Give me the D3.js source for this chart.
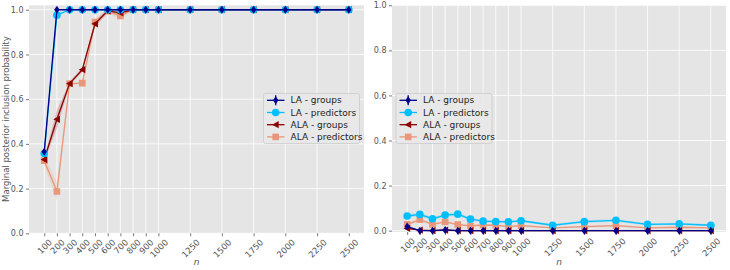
<!DOCTYPE html>
<html><head><meta charset="utf-8">
<script src="https://cdn.jsdelivr.net/npm/d3@7"></script>
<style>body{margin:0;background:#fff}svg{display:block}text{font-family:"DejaVu Sans",sans-serif}</style>
</head><body><svg id="c" width="730" height="270"></svg>
<script>
const nValues = [100,200,300,400,500,600,700,800,900,1000,1250,1500,1750,2000,2250,2500];
const xTicks = [100,200,300,400,500,600,700,800,900,1000,1250,1500,1750,2000,2250,2500];
const yTicks = [0,0.2,0.4,0.6,0.8,1.0];
const seriesNames = ["LA - groups","LA - predictors","ALA - groups","ALA - predictors"];

// Left panel (groups/predictors that are in the model)
const leftLAgroups   = [0.365,1,1,1,1,1,1,1,1,1,1,1,1,1,1,1];
const leftLApreds    = [0.357,0.976,1,1,1,1,1,1,1,1,1,1,1,1,1,1];
const leftALAgroups  = [0.33,0.51,0.67,0.732,0.937,0.995,0.986,1,1,1,1,1,1,1,1,1];
const leftALApreds   = [0.325,0.187,0.67,0.672,0.945,0.994,0.972,1,1,1,1,1,1,1,1,1];
const leftLAgroupsErr  = [0.01,0,0,0,0,0,0,0,0,0,0,0,0,0,0,0];
const leftLApredsErr   = [0.01,0.008,0,0,0,0,0,0,0,0,0,0,0,0,0,0];
const leftALAgroupsErr = [0.01,0.04,0.008,0.01,0.015,0.008,0.01,0,0,0,0,0,0,0,0,0];
const leftALApredsErr  = [0.02,0.04,0.005,0.005,0.015,0.01,0.015,0,0,0,0,0,0,0,0,0];

// Right panel (groups/predictors not in the model)
const rightLAgroups  = [0.018,0,0,0.003,0,0,0,0,0,0,0,0,0,0,0,0];
const rightLApreds   = [0.065,0.072,0.053,0.069,0.073,0.051,0.042,0.04,0.039,0.044,0.024,0.04,0.046,0.028,0.03,0.024];
const rightALAgroups = [0.01,0.002,0,0.002,0,0,0,0,0,0,0,0,0,0,0,0];
const rightALApreds  = [0.028,0.049,0.028,0.039,0.027,0.021,0.025,0.024,0.018,0.022,0.012,0.018,0.022,0.012,0.015,0.012];
const rightLAgroupsErr  = [0.004,0.001,0.001,0.002,0.001,0.001,0.001,0.001,0.001,0.001,0.001,0.001,0.001,0.001,0.001,0.001];
const rightLApredsErr   = [0.008,0.008,0.007,0.007,0.007,0.006,0.006,0.006,0.006,0.006,0.005,0.006,0.006,0.005,0.005,0.005];
const rightALAgroupsErr = [0.004,0.002,0.001,0.002,0.001,0.001,0.001,0.001,0.001,0.001,0.001,0.001,0.001,0.001,0.001,0.001];
const rightALApredsErr  = [0.006,0.006,0.005,0.005,0.005,0.004,0.004,0.004,0.004,0.004,0.003,0.004,0.004,0.003,0.003,0.003];

const colors = ["#00008B","#00BFFF","#8B0000","#E9967A"];
const markers = ["thindiamond","circle","triangleleft","square"];

const svg = d3.select("#c");
const FONT = "DejaVu Sans";

function markerPath(type){
  switch(type){
    case "thindiamond": return "M0,-4L2.7,0L0,4L-2.7,0Z";
    case "circle": return d3.symbol(d3.symbolCircle, 46)();
    case "triangleleft": return "M-3.6,0L3,-3.6L3,3.6Z";
    case "square": return "M-3.3,-3.3H3.3V3.3H-3.3Z";
  }
}

function panel(opt){
  const g = svg.append("g");
  const x = d3.scaleLinear().domain([-20,2620]).range([opt.x0,opt.x1]);
  const y = d3.scaleLinear().domain(opt.ydom).range([opt.y1,opt.y0]);
  g.append("rect").attr("x",opt.x0).attr("y",opt.y0).attr("width",opt.x1-opt.x0).attr("height",opt.y1-opt.y0).attr("fill","#E5E5E5");
  // grid
  g.append("g").selectAll("line").data(xTicks).join("line")
    .attr("x1",d=>x(d)).attr("x2",d=>x(d)).attr("y1",opt.y0).attr("y2",opt.y1)
    .attr("stroke","#fff").attr("stroke-width",0.8);
  g.append("g").selectAll("line").data(yTicks).join("line")
    .attr("y1",d=>y(d)).attr("y2",d=>y(d)).attr("x1",opt.x0).attr("x2",opt.x1)
    .attr("stroke","#fff").attr("stroke-width",0.8);
  // y axis
  const ya = d3.axisLeft(y).tickValues(yTicks).tickFormat(d3.format(".1f")).tickSize(3).tickPadding(2.5);
  const yg = g.append("g").attr("transform",`translate(${opt.x0},0)`).call(ya);
  yg.select(".domain").remove();
  yg.selectAll("line").attr("stroke","#555").attr("stroke-width",0.8);
  yg.selectAll("text").attr("fill","#555").style("font-family",FONT).style("font-size","8px");
  // x axis
  const xa = d3.axisBottom(x).tickValues(xTicks).tickFormat(d3.format("d")).tickSize(3).tickPadding(0);
  const xg = g.append("g").attr("transform",`translate(0,${opt.y1})`).call(xa);
  xg.select(".domain").remove();
  xg.selectAll("line").attr("stroke","#555").attr("stroke-width",0.8);
  xg.selectAll("text").attr("fill","#555").style("font-family",FONT).style("font-size","8.5px")
    .attr("text-anchor","middle").attr("dominant-baseline","central").attr("dy",null)
    .each(function(){
      const w = this.getComputedTextLength();
      const h = 8.5;
      const off = 4.5 + (w + h)/(2*Math.SQRT2);
      d3.select(this).attr("y",0).attr("transform",`translate(0,${off}) rotate(-45)`);
    });
  // x label
  g.append("text").attr("x",(opt.x0+opt.x1)/2).attr("y",265).attr("text-anchor","middle")
    .attr("fill","#555").style("font-size","9px").style("font-style","italic").text("n");

  const clipId = "clip"+opt.id;
  svg.append("clipPath").attr("id",clipId).append("rect")
    .attr("x",opt.x0).attr("y",opt.y0-6).attr("width",opt.x1-opt.x0).attr("height",opt.y1-opt.y0+12);
  const plot = g.append("g").attr("clip-path",`url(#${clipId})`);
  const order = [3,2,1,0];
  order.forEach(i=>{
    const vals = opt.series[i], errs = opt.errs[i];
    const data = nValues.map((n,k)=>({n, v:vals[k], e:errs[k]}));
    plot.append("path").datum(data)
      .attr("d", d3.area().x(d=>x(d.n)).y0(d=>y(d.v-d.e)).y1(d=>y(d.v+d.e)))
      .attr("fill",colors[i]).attr("opacity",0.2);
  });
  order.forEach(i=>{
    const vals = opt.series[i];
    const data = nValues.map((n,k)=>({n, v:vals[k]}));
    plot.append("path").datum(data)
      .attr("d", d3.line().x(d=>x(d.n)).y(d=>y(d.v)))
      .attr("fill","none").attr("stroke",colors[i]).attr("stroke-width",1.3);
    plot.append("g").selectAll("path").data(data).join("path")
      .attr("transform",d=>`translate(${x(d.n)},${y(d.v)})`)
      .attr("d",markerPath(markers[i])).attr("fill",colors[i]);
  });
  // legend
  const lg = g.append("g").attr("transform",`translate(${opt.legX},93.5)`);
  lg.append("rect").attr("x",0).attr("y",0).attr("width",96).attr("height",50).attr("rx",2)
    .attr("fill","#E8E8E8").attr("fill-opacity",0.9).attr("stroke","#CCCCCC").attr("stroke-width",0.8);
  seriesNames.forEach((name,i)=>{
    const yy = 6.8 + i*12.2;
    lg.append("line").attr("x1",3.5).attr("x2",21).attr("y1",yy).attr("y2",yy)
      .attr("stroke",colors[i]).attr("stroke-width",1.3);
    if(i===0){
      lg.append("line").attr("x1",12.2).attr("x2",12.2).attr("y1",yy-5).attr("y2",yy+5)
        .attr("stroke",colors[i]).attr("stroke-width",1.3);
    }
    lg.append("path").attr("transform",`translate(12.2,${yy})`).attr("d",markerPath(markers[i])).attr("fill",colors[i]);
    lg.append("text").attr("x",27).attr("y",yy).attr("dominant-baseline","central")
      .attr("fill","#222").style("font-size","9px").text(name);
  });
}

panel({id:"L", x0:29, x1:364, y0:5.3, y1:233.3, ydom:[0,1.02], legX:263.5,
  series:[leftLAgroups,leftLApreds,leftALAgroups,leftALApreds],
  errs:[leftLAgroupsErr,leftLApredsErr,leftALAgroupsErr,leftALApredsErr]});
panel({id:"R", x0:392, x1:726, y0:5.3, y1:232, ydom:[-0.006,1.0], legX:396,
  series:[rightLAgroups,rightLApreds,rightALAgroups,rightALApreds],
  errs:[rightLAgroupsErr,rightLApredsErr,rightALAgroupsErr,rightALApredsErr]});

svg.append("text").attr("transform","translate(5.5,119) rotate(-90)").attr("text-anchor","middle")
  .attr("dominant-baseline","central").attr("fill","#555").style("font-size","8.5px")
  .text("Marginal posterior inclusion probability");
</script></body></html>
